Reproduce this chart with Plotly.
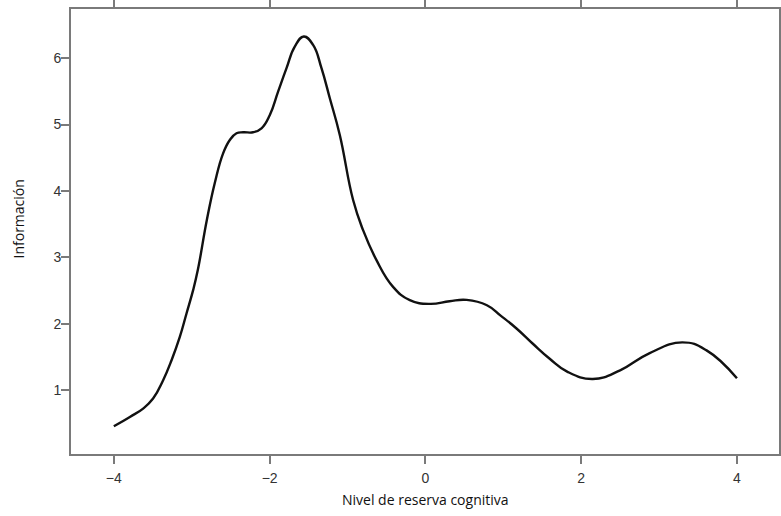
import plotly.graph_objects as go

theta = [-4.0, -3.794, -3.624, -3.496, -3.367, -3.259, -3.153, -3.067, -2.982, -2.922, -2.806,
         -2.704, -2.597, -2.511, -2.425, -2.340, -2.212, -2.104, -1.997, -1.891, -1.783, -1.677,
         -1.561, -1.442, -1.334, -1.227, -1.099, -0.928, -0.800, -0.628, -0.415, -0.200, 0.06,
         0.31, 0.53, 0.79, 0.97, 1.17, 1.38, 1.60, 1.82, 2.15, 2.50, 2.88, 3.30, 3.61, 4.0]
info = [0.457, 0.598, 0.724, 0.875, 1.151, 1.452, 1.803, 2.156, 2.507, 2.809, 3.562,
        4.120, 4.567, 4.768, 4.869, 4.884, 4.884, 4.944, 5.145, 5.496, 5.849, 6.174,
        6.325, 6.200, 5.849, 5.396, 4.843, 3.864, 3.411, 2.959, 2.557, 2.356, 2.30,
        2.34, 2.36, 2.28, 2.12, 1.93, 1.70, 1.47, 1.28, 1.17, 1.30, 1.56, 1.72, 1.60, 1.18]

x_ticks = [-4, -2, 0, 2, 4]
y_ticks = [1, 2, 3, 4, 5, 6]

fig = go.Figure()
fig.add_trace(go.Scatter(x=theta, y=info, mode="lines",
                         line=dict(color="#111111", width=2.4, shape="spline", smoothing=1.3),
                         hoverinfo="skip"))

axis_common = dict(showgrid=False, zeroline=False, showline=True, linecolor="#7a7a7a",
                   linewidth=1.6, ticks="outside", ticklen=8, tickwidth=1.6, tickcolor="#7a7a7a",
                   automargin=False,
                   tickfont=dict(family="Arial", size=14, color="#333333"))

fig.update_xaxes(range=[-4.55, 4.54], tickvals=x_ticks, mirror="ticks",
                 ticklabelstandoff=2, **axis_common)
fig.update_yaxes(range=[0.04, 6.74], tickvals=y_ticks, mirror=True,
                 ticklabelstandoff=-3, **axis_common)

title_font = dict(family="Open Sans", size=14, color="#111111")
fig.add_annotation(text="Nivel de reserva cognitiva", xref="paper", yref="paper",
                   x=0.5, y=0, yshift=-45, showarrow=False, font=title_font,
                   xanchor="center", yanchor="middle")
fig.add_annotation(text="Información", xref="paper", yref="paper",
                   x=0, y=0.5, xshift=-53, yshift=12, textangle=-90, showarrow=False,
                   font=title_font, xanchor="center", yanchor="middle")

fig.update_layout(width=781, height=516, margin=dict(l=71, r=2, t=9, b=62),
                  paper_bgcolor="white", plot_bgcolor="white", showlegend=False)

fig.write_html("out.html", config={"displayModeBar": False},
               post_script="document.body.style.margin='0';")
